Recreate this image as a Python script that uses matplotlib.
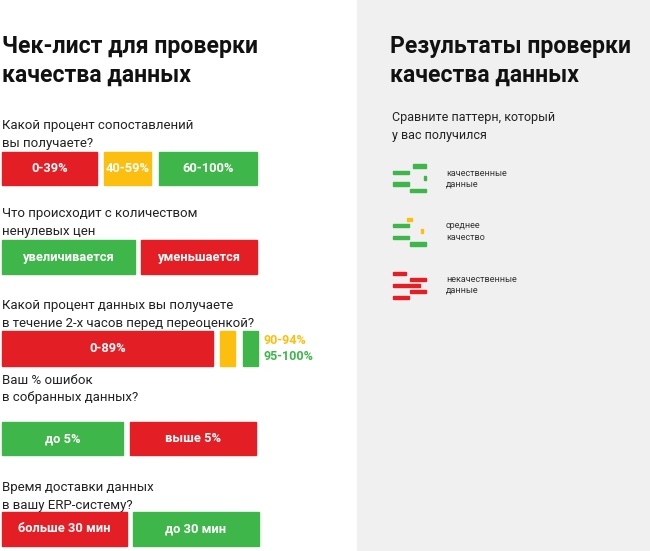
import matplotlib.pyplot as plt
from matplotlib.patches import Rectangle

plt.rcParams['font.family'] = 'Roboto'

RED = '#e31e24'
YEL = '#fcbf0f'
GRN = '#3fb64a'

# questions: (lines, y of first line)
questions = [
    (["Какой процент сопоставлений", "вы получаете?"], 126),
    (["Что происходит с количеством", "ненулевых цен"], 214),
    (["Какой процент данных вы получаете", "в течение 2-х часов перед переоценкой?"], 305),
    (["Ваш % ошибок", "в собранных данных?"], 380),
    (["Время доставки данных", "в вашу ERP-систему?"], 487),
]

# answer bars: (x0, x1, y0, y1, colour, label)
bars = [
    (2, 97, 152, 185, RED, "0-39%"),
    (104, 151, 152, 185, YEL, "40-59%"),
    (159, 257, 152, 185, GRN, "60-100%"),
    (2, 135, 240, 274, GRN, "увеличивается"),
    (141, 257, 240, 274, RED, "уменьшается"),
    (2, 213, 331, 366, RED, "0-89%"),
    (220, 235, 331, 366, YEL, ""),
    (243, 258, 331, 366, GRN, ""),
    (2, 123, 422, 455, GRN, "до 5%"),
    (130, 256, 422, 455, RED, "выше 5%"),
    (2, 127, 512, 546, RED, "больше 30 мин"),
    (133, 259, 512, 546, GRN, "до 30 мин"),
]

# pattern icons: (x0, x1, y0, y1, colour)
icons = [
    (413, 426, 164, 168, GRN), (393, 409, 171, 174, GRN), (424, 426, 176, 180, GRN),
    (393, 409, 182, 186, GRN), (410, 426, 189, 192, GRN),
    (407, 412, 218, 221, YEL), (393, 409, 224, 227, GRN), (421, 423, 229, 233, YEL),
    (393, 409, 236, 239, GRN), (410, 426, 242, 246, GRN),
    (393, 406, 272, 275, RED), (410, 426, 278, 281, RED), (393, 420, 284, 287, RED),
    (410, 426, 290, 293, RED), (393, 409, 296, 299, RED),
]
icon_labels = [(["качественные", "данные"], 173), (["среднее", "качество"], 226),
               (["некачественные", "данные"], 279)]

fig = plt.figure(figsize=(6.5, 5.51), dpi=100)
ax = fig.add_axes([0, 0, 1, 1])
ax.set_xlim(0, 650)
ax.set_ylim(551, 0)
ax.axis('off')

ax.add_patch(Rectangle((357, 0), 293, 551, color='#f0f0f0', zorder=0))

for x, s1, s2 in [(2, "Чек-лист для проверки", "качества данных"),
                  (390, "Результаты проверки", "качества данных")]:
    ax.text(x, 47, s1, fontsize=16.6, fontweight='bold', va='center', color='#111111')
    ax.text(x, 75, s2, fontsize=16.6, fontweight='bold', va='center', color='#111111')

for lines, y in questions:
    for i, s in enumerate(lines):
        ax.text(2, y + i * 18, s, fontsize=9.5, va='center', color='#222222')

for x0, x1, y0, y1, c, lab in bars:
    ax.add_patch(Rectangle((x0, y0), x1 - x0, y1 - y0, color=c))
    if lab:
        ax.text((x0 + x1) / 2, (y0 + y1) / 2, lab, fontsize=9.3, fontweight='bold',
                color='white', ha='center', va='center')

ax.text(263, 341, "90-94%", fontsize=9, fontweight='bold', color=YEL, va='center')
ax.text(263, 357, "95-100%", fontsize=9, fontweight='bold', color=GRN, va='center')

ax.text(392, 118, "Сравните паттерн, который", fontsize=9, va='center', color='#222222')
ax.text(392, 135, "у вас получился", fontsize=9, va='center', color='#222222')

for x0, x1, y0, y1, c in icons:
    ax.add_patch(Rectangle((x0, y0), x1 - x0, y1 - y0, color=c))
for lines, y in icon_labels:
    for i, s in enumerate(lines):
        ax.text(446, y + i * 11, s, fontsize=6.5, va='center', color='#333333')

fig.savefig("out.png", dpi=100)
